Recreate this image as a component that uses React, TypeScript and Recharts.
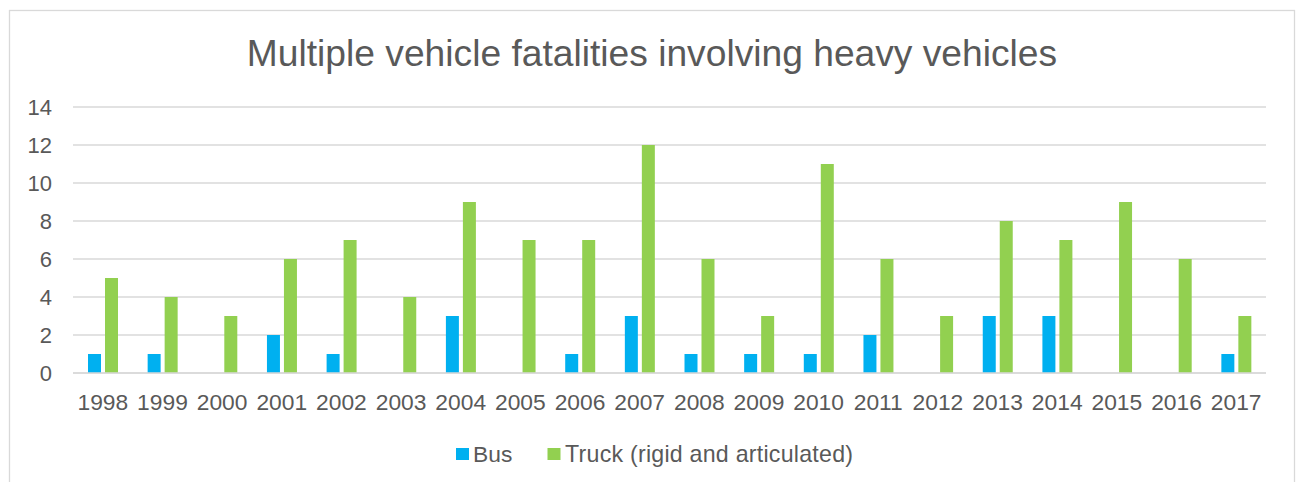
import React from 'react';
import { BarChart, Bar, XAxis, YAxis, CartesianGrid } from 'recharts';

const years = ['1998', '1999', '2000', '2001', '2002', '2003', '2004', '2005', '2006', '2007', '2008', '2009', '2010', '2011', '2012', '2013', '2014', '2015', '2016', '2017'];
const busValues = [1, 1, 0, 2, 1, 0, 3, 0, 1, 3, 1, 1, 1, 2, 0, 3, 3, 0, 0, 1];
const truckValues = [5, 4, 3, 6, 7, 4, 9, 7, 7, 12, 6, 3, 11, 6, 3, 8, 7, 9, 6, 3];
const yTicks = [0, 2, 4, 6, 8, 10, 12, 14];
const seriesNames = ['Bus', 'Truck (rigid and articulated)'];
const titleText = 'Multiple vehicle fatalities involving heavy vehicles';

const data = years.map((year, i) => ({ year, bus: busValues[i], truck: truckValues[i] }));

const BUS = '#00B0F0';
const TRUCK = '#92D050';
const TEXT = '#595959';
const GRID = '#D9D9D9';
const FONT = '"Liberation Sans", Arial, sans-serif';

export default function App() {
  return (
    <div style={{ position: 'absolute', left: 0, top: 0, width: 1297, height: 482, background: '#fff', fontFamily: FONT }}>
      <BarChart
        width={1297}
        height={482}
        data={data}
        margin={{ top: 107, right: 31, left: 13, bottom: 69 }}
        barSize={13}
        barGap={4}
      >
        <CartesianGrid vertical={false} stroke={GRID} strokeWidth={1.3} />
        <XAxis
          dataKey="year"
          height={40}
          axisLine={{ stroke: GRID, strokeWidth: 1.3 }}
          tickLine={false}
          tickSize={0}
          tickMargin={21}
          interval={0}
          tick={{ fill: TEXT, fontSize: 22.8, fontFamily: FONT }}
        />
        <YAxis
          width={60}
          domain={[0, 14]}
          ticks={yTicks}
          axisLine={false}
          tickLine={false}
          tickSize={0}
          tickMargin={21}
          tick={{ fill: TEXT, fontSize: 22, fontFamily: FONT }}
        />
        <Bar dataKey="bus" name={seriesNames[0]} fill={BUS} isAnimationActive={false} />
        <Bar dataKey="truck" name={seriesNames[1]} fill={TRUCK} isAnimationActive={false} />
      </BarChart>
      <svg width={1297} height={482} style={{ position: 'absolute', left: 0, top: 0, pointerEvents: 'none' }}>
        <rect x={9.5} y={10.5} width={1285} height={500} fill="none" stroke={GRID} strokeWidth={1.3} />
        <text x={652} y={66} textAnchor="middle" fill={TEXT} fontSize={37.2} fontFamily={FONT}>{titleText}</text>
        <rect x={456} y={448} width={13} height={12} fill={BUS} />
        <text x={473} y={461.5} fill={TEXT} fontSize={22.8} fontFamily={FONT}>{seriesNames[0]}</text>
        <rect x={547.5} y={448} width={13} height={12} fill={TRUCK} />
        <text x={565} y={461.5} fill={TEXT} fontSize={23.2} fontFamily={FONT} textLength={288} lengthAdjust="spacing">{seriesNames[1]}</text>
      </svg>
    </div>
  );
}
